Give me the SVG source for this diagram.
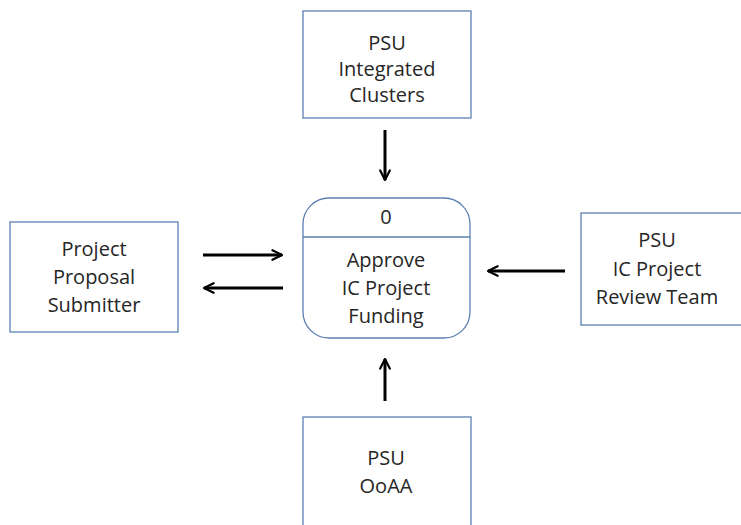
<svg xmlns="http://www.w3.org/2000/svg" width="741" height="525" viewBox="0 0 741 525">
<style>
.box{fill:#fff;stroke:#5b80b2;stroke-width:1.3}
.t{font-family:"Open Sans","Liberation Sans",sans-serif;font-size:20px;fill:#262626;text-anchor:middle}
.a{stroke:#000;stroke-width:3;fill:none;marker-end:url(#ah)}
</style>
<defs>
<marker id="ah" viewBox="0 0 10 10" refX="9" refY="5" markerWidth="4" markerHeight="4" orient="auto" markerUnits="strokeWidth">
<path d="M1,1 L9,5 L1,9" fill="none" stroke="#000" stroke-width="1.8" stroke-linecap="round" stroke-linejoin="round"/>
</marker>
</defs>
<rect width="741" height="525" fill="#fff"/>
<g id="clusters">
<rect class="box" x="303" y="11" width="168" height="107"/>
<text class="t" x="387" y="50">PSU</text>
<text class="t" x="387" y="76">Integrated</text>
<text class="t" x="387" y="102">Clusters</text>
</g>
<g id="process">
<rect class="box" x="303" y="198" width="167" height="140" rx="26" ry="26"/>
<line x1="303" y1="237" x2="470" y2="237" stroke="#5b80b2" stroke-width="1.3"/>
<text class="t" x="386" y="224">0</text>
<text class="t" x="386" y="267">Approve</text>
<text class="t" x="386" y="295">IC Project</text>
<text class="t" x="386" y="323">Funding</text>
</g>
<g id="submitter">
<rect class="box" x="10" y="222" width="168" height="110"/>
<text class="t" x="94" y="256">Project</text>
<text class="t" x="94" y="284">Proposal</text>
<text class="t" x="94" y="312">Submitter</text>
</g>
<g id="reviewteam">
<rect class="box" x="581" y="213" width="165" height="112"/>
<text class="t" x="657" y="247">PSU</text>
<text class="t" x="657" y="276">IC Project</text>
<text class="t" x="657" y="304">Review Team</text>
</g>
<g id="ooaa">
<rect class="box" x="303" y="417" width="168" height="120"/>
<text class="t" x="386" y="465">PSU</text>
<text class="t" x="386" y="493">OoAA</text>
</g>
<g id="connectors">
<line class="a" x1="385" y1="130" x2="385" y2="180"/>
<line class="a" x1="203" y1="255" x2="282" y2="255"/>
<line class="a" x1="283" y1="288" x2="204" y2="288"/>
<line class="a" x1="565" y1="271" x2="488" y2="271"/>
<line class="a" x1="385" y1="401" x2="385" y2="359"/>
</g>
</svg>
